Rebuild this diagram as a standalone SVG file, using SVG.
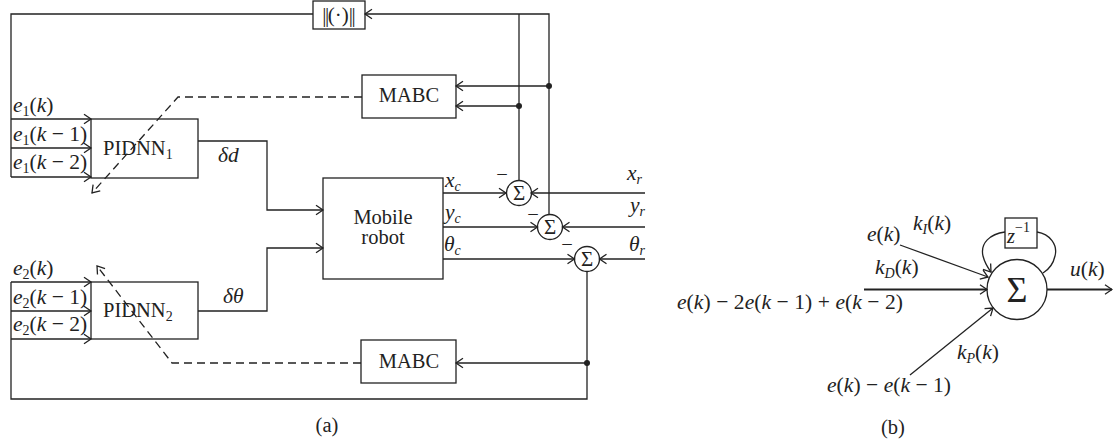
<svg xmlns="http://www.w3.org/2000/svg" width="1113" height="441" viewBox="0 0 1113 441">
<style>
.t{font-family:"Liberation Serif",serif;font-size:20.5px;fill:#222}
.m{font-size:21.5px}
.i{font-style:italic}
.s{font-size:14px}
.box{fill:none;stroke:#222;stroke-width:1.3}
.ln{fill:none;stroke:#222;stroke-width:1.3}
.dash{fill:none;stroke:#222;stroke-width:1.3;stroke-dasharray:8 5}
.thick{fill:none;stroke:#222;stroke-width:2.2}
</style>
<defs>
<marker id="ah" viewBox="-9 -6 11 12" refX="0" refY="0" markerWidth="11" markerHeight="12" markerUnits="userSpaceOnUse" orient="auto">
<path d="M-7,-4.8 L0,0 L-7,4.8" fill="none" stroke="#222" stroke-width="1.3"/>
</marker>
</defs>
<rect width="1113" height="441" fill="#fff"/>

<g id="connectors">
<path class="ln" d="M549,214.5 L549,14 L365,14" marker-end="url(#ah)"/>
<path class="ln" d="M519,180.5 L519,14"/>
<path class="ln" d="M549,86 L456,86" marker-end="url(#ah)"/>
<path class="ln" d="M519,106 L456,106" marker-end="url(#ah)"/>
<path class="ln" d="M313,14 L11,14 L11,177"/>
<path class="ln" d="M11,119 L91,119" marker-end="url(#ah)"/>
<path class="ln" d="M11,148 L91,148" marker-end="url(#ah)"/>
<path class="ln" d="M11,177 L91,177" marker-end="url(#ah)"/>
<path class="ln" d="M198,141 L267,141 L267,210 L323,210" marker-end="url(#ah)"/>
<path class="ln" d="M198,311 L267,311 L267,248 L323,248" marker-end="url(#ah)"/>
<path class="ln" d="M443,193 L506,193" marker-end="url(#ah)"/>
<path class="ln" d="M645,193 L531,193" marker-end="url(#ah)"/>
<path class="ln" d="M443,227 L537.5,227" marker-end="url(#ah)"/>
<path class="ln" d="M645,227 L562.5,227" marker-end="url(#ah)"/>
<path class="ln" d="M443,259 L574.5,259" marker-end="url(#ah)"/>
<path class="ln" d="M645,259 L599.5,259" marker-end="url(#ah)"/>
<path class="ln" d="M587,271.5 L587,399 L11,399 L11,282"/>
<path class="ln" d="M11,282 L91,282" marker-end="url(#ah)"/>
<path class="ln" d="M11,311 L91,311" marker-end="url(#ah)"/>
<path class="ln" d="M11,339 L91,339" marker-end="url(#ah)"/>
<path class="ln" d="M587,363 L456,363" marker-end="url(#ah)"/>
<path class="dash" d="M362,97 L178,97 L92,193" marker-end="url(#ah)"/>
<path class="dash" d="M361,363 L172,363 L97,266" marker-end="url(#ah)"/>
<circle cx="549" cy="86" r="3" fill="#222"/>
<circle cx="519" cy="106" r="3" fill="#222"/>
<circle cx="587" cy="363" r="3" fill="#222"/>
<path class="thick" d="M864,289.5 L987,289.5" marker-end="url(#ah)"/>
<path class="thick" d="M1047,289.5 L1112,289.5" marker-end="url(#ah)"/>
<path class="ln" d="M900,245 L988,277" marker-end="url(#ah)"/>
<path class="ln" d="M910,375 L993,308" marker-end="url(#ah)"/>
<path class="ln" d="M1005,232 C990,234 980,243 983,256 C985,264 988,268 991,272" marker-end="url(#ah)"/>
<path class="ln" d="M1037,232 C1050,234 1058,245 1055,256 C1053,265 1048,270 1043,273"/>
</g>

<g id="norm">
<rect class="box" x="313" y="1" width="52" height="28"/>
<text class="t" x="339" y="22" text-anchor="middle" style="font-size:21px"><tspan letter-spacing="-1.5">||</tspan>(·)<tspan letter-spacing="-1.5">|</tspan>|</text>
</g>
<g id="mabc1">
<rect class="box" x="362" y="75" width="94" height="43"/>
<text class="t" x="409" y="102" text-anchor="middle">MABC</text>
</g>
<g id="mabc2">
<rect class="box" x="361" y="340" width="95" height="43"/>
<text class="t" x="409" y="368" text-anchor="middle">MABC</text>
</g>
<g id="pidnn1">
<rect class="box" x="91" y="119" width="107" height="59"/>
<text class="t" x="103" y="155">PIDNN<tspan class="s" dy="4">1</tspan></text>
</g>
<g id="pidnn2">
<rect class="box" x="91" y="282" width="107" height="57"/>
<text class="t" x="103" y="317">PIDNN<tspan class="s" dy="4">2</tspan></text>
</g>
<g id="robot">
<rect class="box" x="323" y="178" width="120" height="101"/>
<text class="t" x="383" y="224" text-anchor="middle">Mobile</text>
<text class="t" x="383" y="244" text-anchor="middle">robot</text>
</g>
<g id="sum1">
<circle class="box" cx="519" cy="193" r="12.5"/>
<text class="t" x="519" y="200" text-anchor="middle" style="font-size:21px">Σ</text>
</g>
<g id="sum2">
<circle class="box" cx="550" cy="227" r="12.5"/>
<text class="t" x="550" y="234" text-anchor="middle" style="font-size:21px">Σ</text>
</g>
<g id="sum3">
<circle class="box" cx="587" cy="259" r="12.5"/>
<text class="t" x="587" y="266" text-anchor="middle" style="font-size:21px">Σ</text>
</g>
<g id="sumb">
<circle class="box" cx="1017" cy="289.5" r="30"/>
<text class="t" x="1017" y="302" text-anchor="middle" style="font-size:36px">Σ</text>
</g>
<g id="zdelay">
<rect class="box" x="1005" y="218" width="32" height="30"/>
<text class="t" x="1007" y="243"><tspan class="i">z</tspan><tspan class="s" dy="-11">−1</tspan></text>
</g>

<g id="labels">
<text class="t m" x="13" y="112"><tspan class="i">e</tspan><tspan class="s" dy="4">1</tspan><tspan dy="-4">(</tspan><tspan class="i">k</tspan>)</text>
<text class="t m" x="13" y="141"><tspan class="i">e</tspan><tspan class="s" dy="4">1</tspan><tspan dy="-4">(</tspan><tspan class="i">k</tspan> − 1)</text>
<text class="t m" x="13" y="169"><tspan class="i">e</tspan><tspan class="s" dy="4">1</tspan><tspan dy="-4">(</tspan><tspan class="i">k</tspan> − 2)</text>
<text class="t m" x="13" y="275"><tspan class="i">e</tspan><tspan class="s" dy="4">2</tspan><tspan dy="-4">(</tspan><tspan class="i">k</tspan>)</text>
<text class="t m" x="13" y="304"><tspan class="i">e</tspan><tspan class="s" dy="4">2</tspan><tspan dy="-4">(</tspan><tspan class="i">k</tspan> − 1)</text>
<text class="t m" x="13" y="331"><tspan class="i">e</tspan><tspan class="s" dy="4">2</tspan><tspan dy="-4">(</tspan><tspan class="i">k</tspan> − 2)</text>
<text class="t m i" x="218" y="162">δd</text>
<text class="t m i" x="223" y="303">δθ</text>
<text class="t m i" x="445" y="187">x<tspan class="s" dy="4">c</tspan></text>
<text class="t m i" x="445" y="219">y<tspan class="s" dy="4">c</tspan></text>
<text class="t m i" x="444" y="251">θ<tspan class="s" dy="4">c</tspan></text>
<text class="t m i" x="627" y="180">x<tspan class="s" dy="4">r</tspan></text>
<text class="t m i" x="630" y="212">y<tspan class="s" dy="4">r</tspan></text>
<text class="t m i" x="629" y="251">θ<tspan class="s" dy="4">r</tspan></text>
<text class="t" x="502" y="181" text-anchor="middle">−</text>
<text class="t" x="533" y="221" text-anchor="middle">−</text>
<text class="t" x="567" y="251" text-anchor="middle">−</text>
<text class="t" x="327" y="432" text-anchor="middle">(a)</text>
<text class="t m" x="867" y="241"><tspan class="i">e</tspan>(<tspan class="i">k</tspan>)</text>
<text class="t m" x="913" y="230"><tspan class="i">k</tspan><tspan class="s i" dy="4">I</tspan><tspan dy="-4">(</tspan><tspan class="i">k</tspan>)</text>
<text class="t m" x="875" y="274"><tspan class="i">k</tspan><tspan class="s i" dy="4">D</tspan><tspan dy="-4">(</tspan><tspan class="i">k</tspan>)</text>
<text class="t m" x="677" y="309" textLength="226"><tspan class="i">e</tspan>(<tspan class="i">k</tspan>) − 2<tspan class="i">e</tspan>(<tspan class="i">k</tspan> − 1) + <tspan class="i">e</tspan>(<tspan class="i">k</tspan> − 2)</text>
<text class="t m" x="957" y="359"><tspan class="i">k</tspan><tspan class="s i" dy="4">P</tspan><tspan dy="-4">(</tspan><tspan class="i">k</tspan>)</text>
<text class="t m" x="827" y="392" textLength="124"><tspan class="i">e</tspan>(<tspan class="i">k</tspan>) − <tspan class="i">e</tspan>(<tspan class="i">k</tspan> − 1)</text>
<text class="t m" x="1070" y="276"><tspan class="i">u</tspan>(<tspan class="i">k</tspan>)</text>
<text class="t" x="893" y="434" text-anchor="middle">(b)</text>
</g>
</svg>
